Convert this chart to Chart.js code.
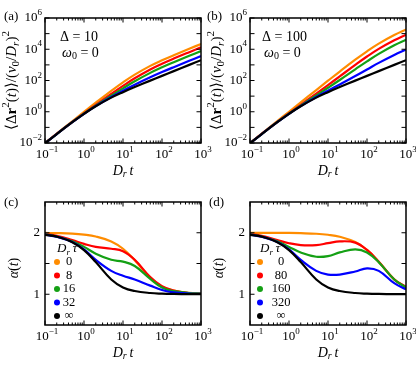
<!DOCTYPE html>
<html>
<head>
<meta charset="utf-8">
<script src="https://cdn.jsdelivr.net/npm/chart.js@4.4.1/dist/chart.umd.min.js"></script>
<style>
  html, body { margin: 0; padding: 0; background: #fff; }
  #wrap { position: relative; width: 416px; height: 366px; overflow: hidden; }
  #wrap canvas { position: absolute; left: 0; top: 0; }
</style>
</head>
<body>
<div id="wrap">
  <canvas id="pa" width="416" height="366"></canvas>
  <canvas id="pb" width="416" height="366"></canvas>
  <canvas id="pc" width="416" height="366"></canvas>
  <canvas id="pd" width="416" height="366"></canvas>
</div>
<script>
// time points D_r t
var times = [0.1, 0.2, 0.5, 1, 2, 5, 10, 20, 50, 100, 200, 500, 1000];
// orange, red, green, blue, black
var seriesColors = ["#ff8c00", "#ff0000", "#14a014", "#0000ff", "#000000"];
var tauLabelsC = ["0", "8", "16", "32", "\u221e"];
var tauLabelsD = ["0", "80", "160", "320", "\u221e"];
var xTickExp = [-1, 0, 1, 2, 3];
var msdTickExp = [-2, 0, 2, 4, 6];
var alphaTickLabels = [1, 2];

// (a) MSD, Delta = 10
var msdA_0 = [0.00997, 0.0398, 0.246, 0.970, 3.77, 21.6, 75.5, 237, 861, 1958, 4158, 10757, 21758];
var msdA_8 = [0.00968, 0.0378, 0.2185, 0.788, 2.73, 13.7, 45.0, 139, 511, 1178, 2518, 6530, 13200];
var msdA_16 = [0.00968, 0.0376, 0.2145, 0.755, 2.48, 10.8, 31.6, 89.1, 308, 698, 1477, 3813, 7700];
var msdA_32 = [0.00968, 0.0375, 0.2135, 0.740, 2.30, 8.83, 22.4, 53.9, 160, 345, 714, 1818, 3660];
var msd_inf = [0.00967, 0.0375, 0.2131, 0.736, 2.27, 8.01, 18.0, 38.0, 98.0, 198, 398, 998, 1998];

// (b) MSD, Delta = 100
var msdB_0 = [0.0100, 0.0400, 0.2496, 0.997, 3.97, 24.6, 96.8, 375, 2133, 7378, 22810, 80740, 181600];
var msdB_80 = [0.00968, 0.0378, 0.2186, 0.791, 2.78, 14.5, 50.9, 183, 997, 3423, 10560, 37560, 85100];
var msdB_160 = [0.00968, 0.0375, 0.2142, 0.753, 2.49, 11.2, 34.4, 108, 516, 1681, 5095, 18045, 40740];
var msdB_320 = [0.00968, 0.0375, 0.2135, 0.740, 2.30, 8.83, 22.5, 56.2, 193, 507, 1337, 4321, 9456];

// (c) alpha, Delta = 10
var alphaC_0 = [1.997, 1.994, 1.985, 1.969, 1.939, 1.859, 1.740, 1.553, 1.265, 1.124, 1.058, 1.023, 1.011];
var alphaC_8 = [1.98, 1.95, 1.88, 1.82, 1.77, 1.74, 1.70, 1.56, 1.28, 1.13, 1.06, 1.02, 1.01];
var alphaC_16 = [1.975, 1.94, 1.86, 1.77, 1.66, 1.56, 1.53, 1.46, 1.25, 1.11, 1.05, 1.02, 1.01];
var alphaC_32 = [1.97, 1.935, 1.85, 1.73, 1.56, 1.38, 1.30, 1.24, 1.14, 1.07, 1.03, 1.01, 1.005];
var alpha_inf = [1.967, 1.936, 1.847, 1.718, 1.523, 1.240, 1.111, 1.053, 1.020, 1.010, 1.005, 1.002, 1.001];

// (d) alpha, Delta = 100
var alphaD_0 = [2.0, 1.999, 1.998, 1.997, 1.993, 1.984, 1.967, 1.935, 1.848, 1.721, 1.527, 1.242, 1.112];
var alphaD_80 = [1.98, 1.95, 1.88, 1.83, 1.80, 1.80, 1.83, 1.86, 1.84, 1.72, 1.53, 1.24, 1.12];
var alphaD_160 = [1.975, 1.94, 1.86, 1.77, 1.68, 1.61, 1.62, 1.68, 1.73, 1.68, 1.52, 1.24, 1.11];
var alphaD_320 = [1.97, 1.935, 1.85, 1.73, 1.56, 1.38, 1.32, 1.32, 1.37, 1.42, 1.38, 1.18, 1.08];

var W = 416, H = 366;
var FAM = '"Liberation Serif", "DejaVu Serif", serif';

// draw a row of text pieces; p.i italic, p.b bold, p.s 'sub' / 'sup'
function rich(ctx, x, y, parts, size, align) {
  var segs = [], w = 0;
  parts.forEach(function (p) {
    var sz = p.s ? Math.round(size * 0.7) : size;
    var f = (p.i ? "italic " : "") + (p.b ? "bold " : "") + sz + "px " + FAM;
    ctx.font = f;
    var m = ctx.measureText(p.t).width;
    var dy = p.s === "sup" ? -size * 0.4 : (p.s === "sub" ? size * 0.25 : 0);
    segs.push({ t: p.t, f: f, w: m, dy: dy });
    w += m;
  });
  var x0 = align === "center" ? x - w / 2 : (align === "right" ? x - w : x);
  ctx.textAlign = "left";
  ctx.textBaseline = "middle";
  ctx.fillStyle = "#000";
  segs.forEach(function (s) {
    ctx.font = s.f;
    ctx.fillText(s.t, x0, y + s.dy);
    x0 += s.w;
  });
}

function pow10Label(e) {
  return [{ t: "10" }, { t: (e < 0 ? "\u2212" : "") + Math.abs(e), s: "sup" }];
}

var drTitle = [{ t: "D", i: 1 }, { t: "r", i: 1, s: "sub" }, { t: "\u2009t", i: 1 }];
var msdTitle = [{ t: "\u27e8\u0394" }, { t: "r", b: 1 }, { t: "2", s: "sup" }, { t: "(" }, { t: "t", i: 1 },
  { t: ")\u27e9/(" }, { t: "v", i: 1 }, { t: "0", s: "sub" }, { t: "/" }, { t: "D", i: 1 },
  { t: "r", i: 1, s: "sub" }, { t: ")" }, { t: "2", s: "sup" }];
var alphaTitle = [{ t: "\u03b1", i: 1 }, { t: "(" }, { t: "t", i: 1 }, { t: ")" }];

// frame, inward ticks on all four sides, x tick labels and x title
function drawAxes(chart, yTicks) {
  var ctx = chart.ctx, a = chart.chartArea, sx = chart.scales.x, sy = chart.scales.y;
  ctx.save();
  ctx.strokeStyle = "#000";
  ctx.lineWidth = 1;
  ctx.beginPath();
  for (var n = -1; n <= 3; n++) {
    for (var k = 1; k < 10; k++) {
      var v = k * Math.pow(10, n);
      if (v > 1000) break;
      var px = sx.getPixelForValue(v), len = k === 1 ? 4.5 : 2.5;
      ctx.moveTo(px, a.bottom); ctx.lineTo(px, a.bottom - len);
      ctx.moveTo(px, a.top); ctx.lineTo(px, a.top + len);
    }
  }
  yTicks.forEach(function (v) {
    var py = sy.getPixelForValue(v);
    ctx.moveTo(a.left, py); ctx.lineTo(a.left + 4.5, py);
    ctx.moveTo(a.right, py); ctx.lineTo(a.right - 4.5, py);
  });
  ctx.stroke();
  ctx.lineWidth = 1.5;
  ctx.strokeRect(a.left, a.top, a.right - a.left, a.bottom - a.top);
  xTickExp.forEach(function (e) {
    rich(ctx, sx.getPixelForValue(Math.pow(10, e)) + 2, a.bottom + 12, pow10Label(e), 13, "center");
  });
  rich(ctx, (a.left + a.right) / 2, a.bottom + 28, drTitle, 14, "center");
  ctx.restore();
}

function rotated(ctx, x, y, parts, size) {
  ctx.save();
  ctx.translate(x, y);
  ctx.rotate(-Math.PI / 2);
  rich(ctx, 0, 0, parts, size, "center");
  ctx.restore();
}

function drawLegend(ctx, x, y, labels, lx) {
  rich(ctx, x, y, [{ t: "D", i: 1 }, { t: "r", i: 1, s: "sub" }, { t: "\u2009\u03c4", i: 1 }], 13, "left");
  labels.forEach(function (lab, i) {
    var ry = y + 13 + i * 13.5;
    ctx.beginPath();
    ctx.fillStyle = seriesColors[i];
    ctx.arc(x, ry, 3, 0, Math.PI * 2);
    ctx.fill();
    rich(ctx, lx, ry, [{ t: lab }], 12.5, "center");
  });
}

function panel(id, area, yScale, sets, decorate) {
  var datasets = sets.map(function (vals, i) {
    return {
      data: times.map(function (t, j) { return { x: t, y: vals[j] }; }),
      borderColor: seriesColors[i],
      borderWidth: 2.2,
      pointRadius: 0,
      tension: 0.4,
      fill: false,
      order: sets.length - 1 - i
    };
  });
  return new Chart(document.getElementById(id), {
    type: "line",
    data: { datasets: datasets },
    options: {
      responsive: false,
      animation: false,
      devicePixelRatio: 1,
      events: [],
      layout: { padding: { left: area.l, top: area.t, right: W - area.r, bottom: H - area.b } },
      plugins: { legend: { display: false }, tooltip: { enabled: false } },
      scales: {
        x: { type: "logarithmic", min: 0.1, max: 1000, display: false },
        y: Object.assign({ display: false }, yScale)
      }
    },
    plugins: [{ id: "decor", afterDraw: decorate }]
  });
}

var msdScale = { type: "logarithmic", min: 0.01, max: 1e6 };
var alphaScale = { type: "linear", min: 0.5, max: 2.5 };
var msdTicks = [1e-2, 1e-1, 1, 10, 100, 1e3, 1e4, 1e5, 1e6];
var alphaTicks = [1, 1.5, 2];

function msdDecor(label, lx, annX, delta) {
  return function (chart) {
    var ctx = chart.ctx, a = chart.chartArea, sy = chart.scales.y;
    drawAxes(chart, msdTicks);
    msdTickExp.forEach(function (e) {
      rich(ctx, a.left - 3, sy.getPixelForValue(Math.pow(10, e)), pow10Label(e), 13, "right");
    });
    rich(ctx, lx, 17, [{ t: label }], 13, "left");
    rotated(ctx, a.left - 33, (a.top + a.bottom) / 2, msdTitle, 15);
    rich(ctx, annX, 37, [{ t: "\u0394 = " + delta }], 14, "left");
    rich(ctx, annX + 2, 53, [{ t: "\u03c9", i: 1 }, { t: "0", s: "sub" }, { t: " = 0" }], 14, "left");
  };
}

function alphaDecor(label, lx, legX, legLabX, labels) {
  return function (chart) {
    var ctx = chart.ctx, a = chart.chartArea, sy = chart.scales.y;
    drawAxes(chart, alphaTicks);
    alphaTickLabels.forEach(function (v) {
      rich(ctx, a.left - 5, sy.getPixelForValue(v), [{ t: String(v) }], 13, "right");
    });
    rich(ctx, lx, 203, [{ t: label }], 13, "left");
    rotated(ctx, a.left - 31, 268, alphaTitle, 14);
    drawLegend(ctx, legX, 249, labels, legLabX);
  };
}

panel("pa", { l: 45, r: 201, t: 18, b: 143 }, msdScale,
  [msdA_0, msdA_8, msdA_16, msdA_32, msd_inf], msdDecor("(a)", 4, 60, 10));
panel("pb", { l: 250, r: 406, t: 18, b: 143 }, msdScale,
  [msdB_0, msdB_80, msdB_160, msdB_320, msd_inf], msdDecor("(b)", 207, 262, 100));
panel("pc", { l: 45, r: 201, t: 202, b: 325 }, alphaScale,
  [alphaC_0, alphaC_8, alphaC_16, alphaC_32, alpha_inf], alphaDecor("(c)", 4, 57, 69, tauLabelsC));
panel("pd", { l: 250, r: 406, t: 202, b: 325 }, alphaScale,
  [alphaD_0, alphaD_80, alphaD_160, alphaD_320, alpha_inf], alphaDecor("(d)", 209, 260, 281, tauLabelsD));
</script>
</body>
</html>
